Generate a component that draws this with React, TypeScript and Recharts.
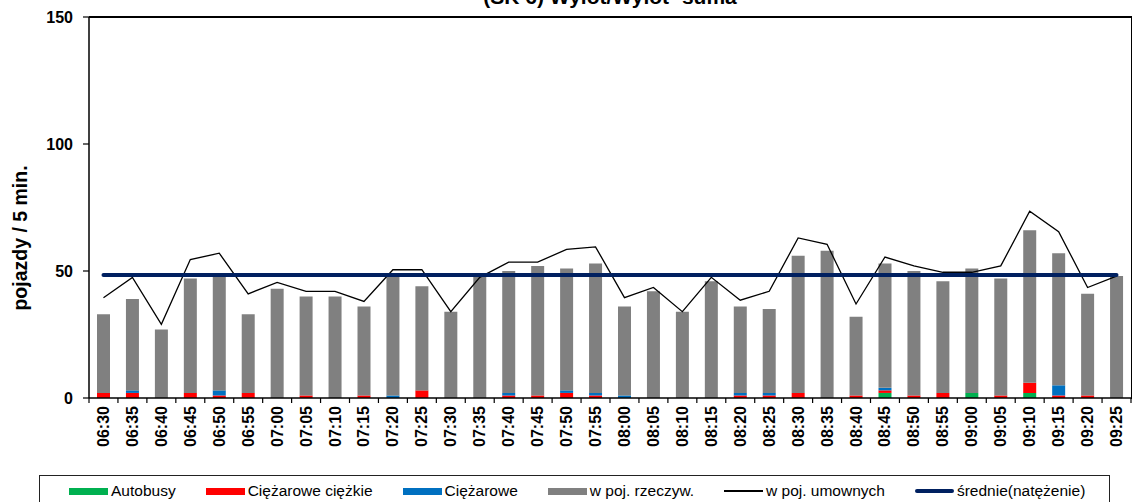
import { ComposedChart, Bar, Line, XAxis, YAxis } from 'recharts';

const godziny = [
  '06:30', '06:35', '06:40', '06:45', '06:50', '06:55', '07:00', '07:05', '07:10', '07:15', '07:20', '07:25',
  '07:30', '07:35', '07:40', '07:45', '07:50', '07:55', '08:00', '08:05', '08:10', '08:15', '08:20', '08:25',
  '08:30', '08:35', '08:40', '08:45', '08:50', '08:55', '09:00', '09:05', '09:10', '09:15', '09:20', '09:25',
];

const autobusy = [
  0, 0, 0, 0, 0, 0, 0, 0, 0, 0, 0, 0,
  0, 0, 0, 0, 0, 0, 0, 0, 0, 0, 0, 0,
  0, 0, 0, 2, 0, 0, 2, 0, 2, 0, 0, 0,
];

const ciezaroweCiezkie = [
  2, 2, 0, 2, 1, 2, 0, 1, 0, 1, 0, 3,
  0, 0, 1, 1, 2, 1, 0, 0, 0, 0, 1, 1,
  2, 0, 1, 1, 1, 2, 0, 1, 4, 1, 1, 0,
];

const ciezarowe = [
  0, 1, 0, 0, 2, 0, 0, 0, 0, 0, 1, 0,
  0, 0, 1, 0, 1, 1, 1, 0, 0, 0, 1, 1,
  0, 0, 0, 1, 0, 0, 0, 0, 0, 4, 0, 0,
];

const rzeczywiste = [
  31, 36, 27, 45, 45, 31, 43, 39, 40, 35, 47, 41,
  34, 48, 48, 51, 48, 51, 35, 42, 34, 46, 34, 33,
  54, 58, 31, 49, 49, 44, 49, 46, 60, 52, 40, 48,
];

const umowne = [
  39.5, 47.5, 29, 54.5, 57, 41, 45.5, 42, 42, 38, 50.5, 50.5,
  34, 47.5, 53.5, 53.5, 58.5, 59.5, 39.5, 43.5, 34, 47.5, 38.5, 42,
  63, 60.5, 37, 55.5, 52, 49.5, 49.5, 52, 73.5, 65.5, 43.5, 48,
];

const srednie = [
  48.4, 48.4, 48.4, 48.4, 48.4, 48.4, 48.4, 48.4, 48.4, 48.4, 48.4, 48.4,
  48.4, 48.4, 48.4, 48.4, 48.4, 48.4, 48.4, 48.4, 48.4, 48.4, 48.4, 48.4,
  48.4, 48.4, 48.4, 48.4, 48.4, 48.4, 48.4, 48.4, 48.4, 48.4, 48.4, 48.4,
];

const yTicks = [0, 50, 100, 150];

const data = godziny.map((czas, i) => ({
  czas,
  autobusy: autobusy[i],
  ciezkie: ciezaroweCiezkie[i],
  ciezarowe: ciezarowe[i],
  rzeczywiste: rzeczywiste[i],
  umowne: umowne[i],
  srednie: srednie[i],
}));

const FONT = '"Liberation Sans", Arial, sans-serif';

const PLOT_LEFT = 89;
const PLOT_RIGHT = 1131;
const PLOT_TOP = 17;
const PLOT_BOTTOM = 398;
const BAND = (PLOT_RIGHT - PLOT_LEFT) / godziny.length;

const legendItems = [
  { name: 'Autobusy', color: '#00B050', kind: 'rect' },
  { name: 'Ciężarowe ciężkie', color: '#FF0000', kind: 'rect' },
  { name: 'Ciężarowe', color: '#0070C0', kind: 'rect' },
  { name: 'w poj. rzeczyw.', color: '#808080', kind: 'rect' },
  { name: 'w poj. umownych', color: '#000000', kind: 'thin' },
  { name: 'średnie(natężenie)', color: '#002060', kind: 'thick' },
];

// label rotated + tick marks between categories (Excel style)
const CzasTick = ({ x, y, payload, index }: any) => {
  const lx = x - BAND / 2;
  const rx = x + BAND / 2;
  const isLast = index === godziny.length - 1;
  return (
    <g>
      <line x1={lx} x2={lx} y1={PLOT_BOTTOM} y2={PLOT_BOTTOM + 5} stroke="#000" strokeWidth={1.2} />
      {isLast && <line x1={rx} x2={rx} y1={PLOT_BOTTOM} y2={PLOT_BOTTOM + 5} stroke="#000" strokeWidth={1.2} />}
      <text
        x={x}
        y={y}
        transform={`rotate(-90, ${x}, ${y})`}
        textAnchor="end"
        dominantBaseline="central"
        fontSize={16}
        fontWeight="bold"
        fontFamily={FONT}
        fill="#000"
      >
        {payload.value}
      </text>
    </g>
  );
};

const YLabel = () => (
  <text
    x={20}
    y={238}
    transform="rotate(-90, 20, 238)"
    textAnchor="middle"
    dominantBaseline="central"
    fontSize={19.5}
    fontWeight="bold"
    fontFamily={FONT}
    fill="#000"
  >
    pojazdy / 5 min.
  </text>
);

function Legenda() {
  return (
    <div
      style={{
        position: 'absolute',
        left: 39,
        top: 475,
        width: 1071,
        height: 40,
        border: '1.5px solid #222',
        boxSizing: 'border-box',
        display: 'flex',
        alignItems: 'flex-start',
        paddingLeft: 29,
        paddingTop: 7,
        gap: 30,
        fontFamily: FONT,
        fontSize: 15.5,
        color: '#000',
      }}
    >
      {legendItems.map((item) => (
        <div key={item.name} style={{ display: 'flex', alignItems: 'center', height: 16 }}>
          <div
            style={{
              width: 39,
              height: item.kind === 'rect' ? 7 : item.kind === 'thick' ? 4 : 1.3,
              background: item.color,
              borderRadius: item.kind === 'thick' ? 2 : 0,
              marginRight: 3,
            }}
          />
          <span style={{ whiteSpace: 'nowrap', lineHeight: '16px' }}>{item.name}</span>
        </div>
      ))}
    </div>
  );
}

export default function App() {
  return (
    <div style={{ position: 'absolute', left: 0, top: 0, width: 1133, height: 502, overflow: 'hidden', background: '#fff' }}>
      <div
        style={{
          position: 'absolute',
          left: 310,
          top: -14,
          width: 600,
          textAlign: 'center',
          fontFamily: FONT,
          fontWeight: 'bold',
          fontSize: 21,
          lineHeight: 1,
        }}
      >
        (SK 6) Wylot/Wylot- suma
      </div>
      <ComposedChart
        width={1133}
        height={502}
        data={data}
        margin={{ top: PLOT_TOP, right: 1133 - PLOT_RIGHT, bottom: 44, left: 0 }}
      >
        <XAxis
          dataKey="czas"
          interval={0}
          tick={<CzasTick />}
          tickLine={false}
          tickSize={0}
          tickMargin={8}
          axisLine={{ stroke: '#000', strokeWidth: 1.5 }}
          height={60}
        />
        <YAxis
          domain={[0, 150]}
          ticks={yTicks}
          width={PLOT_LEFT}
          tickSize={6}
          tickMargin={10}
          tick={{ fontSize: 16, fontWeight: 'bold', fill: '#000', fontFamily: FONT }}
          tickLine={{ stroke: '#000', strokeWidth: 1.2 }}
          axisLine={{ stroke: '#000', strokeWidth: 1.5 }}
          label={<YLabel />}
        />
        <Bar dataKey="autobusy" stackId="a" fill="#00B050" barSize={13} isAnimationActive={false} />
        <Bar dataKey="ciezkie" stackId="a" fill="#FF0000" barSize={13} isAnimationActive={false} />
        <Bar dataKey="ciezarowe" stackId="a" fill="#0070C0" barSize={13} isAnimationActive={false} />
        <Bar dataKey="rzeczywiste" stackId="a" fill="#808080" barSize={13} isAnimationActive={false} />
        <Line type="linear" dataKey="umowne" stroke="#000" strokeWidth={1.3} dot={false} isAnimationActive={false} />
        <Line type="linear" dataKey="srednie" stroke="#002060" strokeWidth={4} strokeLinecap="round" dot={false} isAnimationActive={false} />
      </ComposedChart>
      {/* top and right frame of the plot area */}
      <div
        style={{
          position: 'absolute',
          left: PLOT_LEFT,
          top: PLOT_TOP - 1,
          width: PLOT_RIGHT - PLOT_LEFT,
          height: PLOT_BOTTOM - PLOT_TOP,
          borderTop: '2px solid #000',
          borderRight: '1.5px solid #000',
          pointerEvents: 'none',
        }}
      />
      <Legenda />
    </div>
  );
}
